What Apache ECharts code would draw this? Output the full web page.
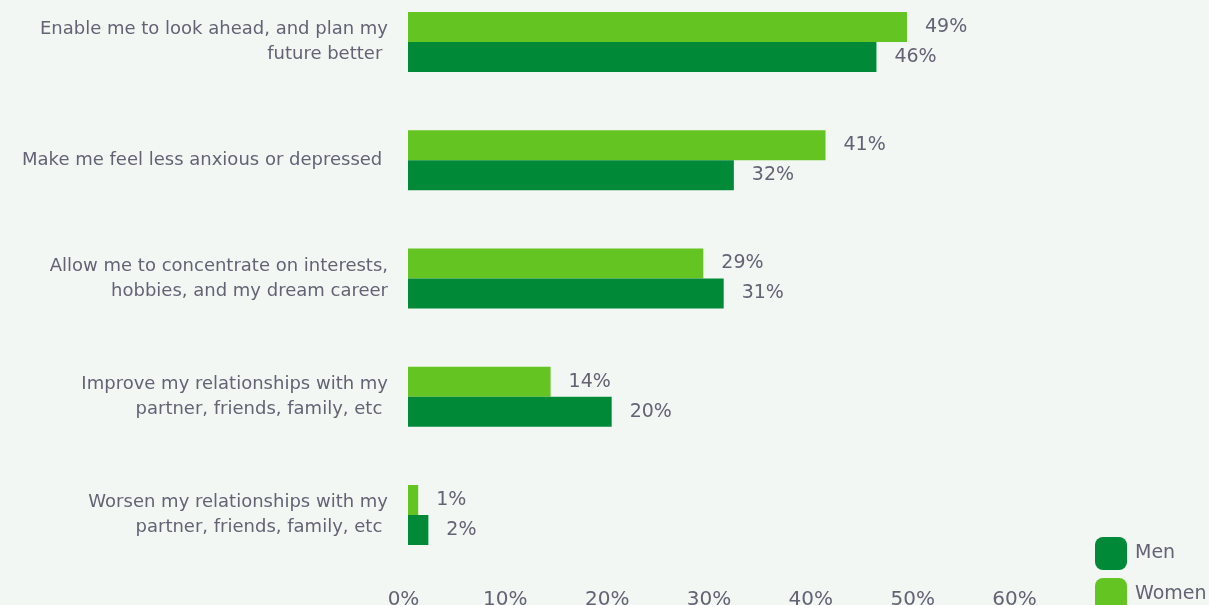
<!DOCTYPE html>
<html>
<head>
<meta charset="utf-8">
<script src="https://cdn.jsdelivr.net/npm/echarts@6/dist/echarts.min.js"></script>
<style>
  html, body { margin: 0; padding: 0; background: #f2f7f4; }
  #chart { width: 1209px; height: 605px; }
</style>
</head>
<body>
<div id="chart"></div>
<script>
// Reasons given for how the change would affect respondents, by gender (%)
const categories = [
  'Enable me to look ahead, and plan my\nfuture better ',
  'Make me feel less anxious or depressed ',
  'Allow me to concentrate on interests,\nhobbies, and my dream career',
  'Improve my relationships with my\npartner, friends, family, etc ',
  'Worsen my relationships with my\npartner, friends, family, etc '
];
const women = [49, 41, 29, 14, 1];
const men = [46, 32, 31, 20, 2];
const xTicks = [0, 10, 20, 30, 40, 50, 60];

const textColor = '#636374';
const fontFamily = '"DejaVu Sans", "Noto Sans", sans-serif';

const legendBase = {
  orient: 'vertical',
  left: 1095,
  padding: 0,
  itemWidth: 32,
  itemHeight: 33,
  icon: 'roundRect',
  textStyle: { fontSize: 19, color: textColor, fontFamily: fontFamily, padding: [0, 0, 0, 3] }
};

const valueLabel = {
  show: true,
  position: 'right',
  distance: 18,
  fontSize: 19,
  color: textColor,
  fontFamily: fontFamily,
  formatter: p => p.value + '%'
};

const chart = echarts.init(document.getElementById('chart'));
chart.setOption({
  backgroundColor: '#f2f7f4',
  animation: false,
  textStyle: { fontFamily: fontFamily },
  grid: {
    left: 408, width: 611, top: 42, height: 473,
    containLabel: false,
    outerBoundsMode: 'none'
  },
  legend: [
    Object.assign({ data: ['Men'], top: 537 }, legendBase),
    Object.assign({ data: ['Women'], top: 578 }, legendBase)
  ],
  xAxis: {
    type: 'value',
    min: xTicks[0],
    max: xTicks[xTicks.length - 1],
    interval: 10,
    axisLine: { show: false },
    axisTick: { show: false },
    splitLine: { show: false },
    axisLabel: {
      fontSize: 20,
      color: textColor,
      margin: 75,
      padding: [0, 9, 0, 0],
      formatter: v => v + '%'
    }
  },
  yAxis: {
    type: 'category',
    data: categories,
    inverse: true,
    boundaryGap: false,
    axisLine: { show: false },
    axisTick: { show: false },
    splitLine: { show: false },
    axisLabel: {
      fontSize: 18,
      lineHeight: 25,
      color: textColor,
      margin: 20,
      align: 'right'
    }
  },
  series: [
    {
      name: 'Women',
      type: 'bar',
      data: women,
      barWidth: 30,
      barGap: '0%',
      itemStyle: { color: '#64c422' },
      label: valueLabel
    },
    {
      name: 'Men',
      type: 'bar',
      data: men,
      barWidth: 30,
      barGap: '0%',
      itemStyle: { color: '#008a38' },
      label: valueLabel
    }
  ]
});
</script>
</body>
</html>
